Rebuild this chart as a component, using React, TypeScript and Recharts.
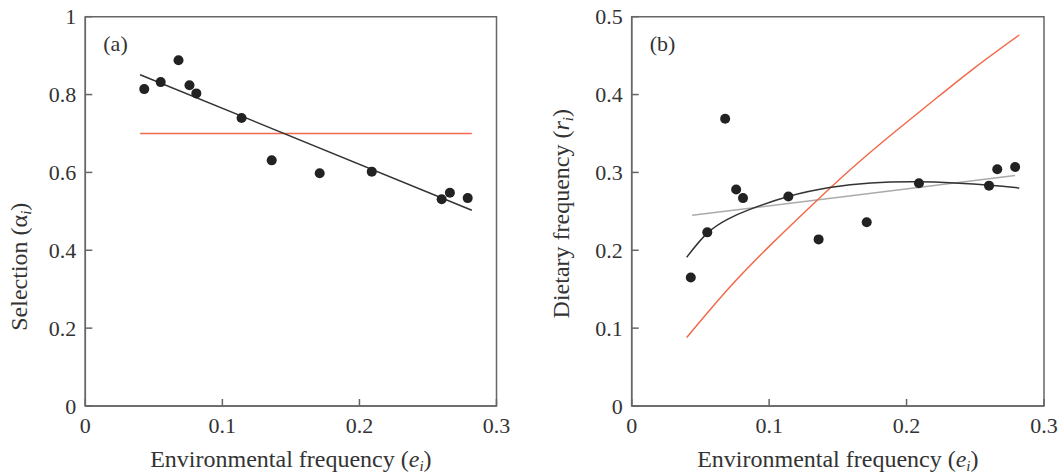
import React from 'react';
import {
  ComposedChart,
  Line,
  Scatter,
  XAxis,
  YAxis,
  ReferenceArea,
} from 'recharts';

// prey items: environmental frequency, selection and dietary frequency
const envFreq = [0.043, 0.055, 0.068, 0.076, 0.081, 0.114, 0.136, 0.171, 0.209, 0.260, 0.266, 0.279];
const selection = [0.814, 0.832, 0.888, 0.824, 0.803, 0.740, 0.631, 0.598, 0.602, 0.531, 0.548, 0.534];
const dietary = [0.165, 0.223, 0.369, 0.278, 0.267, 0.269, 0.214, 0.236, 0.286, 0.283, 0.304, 0.307];

// panel (a) lines
const selFitX = [0.04, 0.282];
const selFitY = [0.851, 0.503];
const selConstX = [0.04, 0.282];
const selConstY = [0.7, 0.7];

// panel (b) lines
const dietLinX = [0.044, 0.279];
const dietLinY = [0.245, 0.296];
const dietCurveX = [0.04, 0.055, 0.07, 0.086, 0.114, 0.144, 0.174, 0.207, 0.235, 0.261, 0.282];
const dietCurveY = [0.191, 0.222, 0.24, 0.2525, 0.269, 0.2805, 0.2865, 0.288, 0.2865, 0.2835, 0.28];
const dietPredX = [0.04, 0.07, 0.1, 0.13, 0.16, 0.19, 0.22, 0.25, 0.282];
const dietPredY = [0.088, 0.15, 0.205, 0.256, 0.305, 0.35, 0.393, 0.435, 0.4765];

const xTicks = [0, 0.1, 0.2, 0.3];
const leftTicks = [0, 0.2, 0.4, 0.6, 0.8, 1];
const rightTicks = [0, 0.1, 0.2, 0.3, 0.4, 0.5];

const FONT = "'Liberation Serif', 'Times New Roman', serif";
const TEXT = '#333';
const AXIS = '#666';
const ORANGE = '#f26a4b';
const TICK_FS = 22;
const TITLE_FS = 24;

const zip = (xs: number[], ys: number[]) => xs.map((x, i) => ({ x, y: ys[i] }));

const BottomTick = (props: any) => {
  const { x, y, payload } = props;
  return (
    <g>
      <line x1={x} x2={x} y1={y} y2={y - 7} stroke={AXIS} strokeWidth={1.5} />
      <text x={x} y={y + 27} textAnchor="middle" fontFamily={FONT} fontSize={TICK_FS} fill={TEXT}>
        {String(payload.value)}
      </text>
    </g>
  );
};

const LeftTick = (props: any) => {
  const { x, y, payload } = props;
  return (
    <g>
      <line x1={x} x2={x + 7} y1={y} y2={y} stroke={AXIS} strokeWidth={1.5} />
      <text x={x - 9} y={y} dy="0.35em" textAnchor="end" fontFamily={FONT} fontSize={TICK_FS} fill={TEXT}>
        {String(payload.value)}
      </text>
    </g>
  );
};

const xTitle = (p: any) => {
  const vb = p.viewBox;
  return (
    <text x={vb.x + vb.width / 2} y={vb.y + 61} textAnchor="middle" fontFamily={FONT} fontSize={TITLE_FS} fill={TEXT}>
      Environmental frequency (<tspan fontStyle="italic">e</tspan>
      <tspan fontStyle="italic" fontSize={15} dy={4}>i</tspan>
      <tspan dy={-4}>)</tspan>
    </text>
  );
};

const yTitle = (label: string, sym: string, symItalic: boolean, dx: number, dy: number) => (p: any) => {
  const vb = p.viewBox;
  const cx = vb.x + dx;
  const cy = vb.y + dy;
  return (
    <text
      x={cx}
      y={cy}
      dy="0.35em"
      textAnchor="middle"
      transform={`rotate(-90, ${cx}, ${cy})`}
      fontFamily={FONT}
      fontSize={TITLE_FS}
      fill={TEXT}
    >
      {label} (<tspan fontStyle={symItalic ? 'italic' : 'normal'}>{sym}</tspan>
      <tspan fontStyle="italic" fontSize={15} dy={4}>i</tspan>
      <tspan dy={-4}>)</tspan>
    </text>
  );
};

const panelTag = (tag: string) => (p: any) => {
  const vb = p.viewBox;
  return (
    <text x={vb.x + 18} y={vb.y + 34} fontFamily={FONT} fontSize={TICK_FS} fill={TEXT}>
      {tag}
    </text>
  );
};

const dot = (p: any) => <circle cx={p.cx} cy={p.cy} r={5} fill="#222" />;

export default function App() {
  return (
    <div style={{ position: 'absolute', left: 0, top: 0, width: 1062, height: 475, background: '#fff' }}>
      <div style={{ position: 'absolute', left: 0, top: 0 }}>
        <ComposedChart width={530} height={475} margin={{ top: 16.7, right: 33.5, bottom: 0, left: 0 }}>
          <XAxis
            dataKey="x"
            type="number"
            domain={[0, 0.3]}
            ticks={xTicks}
            allowDataOverflow
            height={69}
            tickSize={0}
            tickMargin={0}
            tickLine={false}
            tick={BottomTick}
            axisLine={{ stroke: AXIS, strokeWidth: 1.5 }}
            label={xTitle}
          />
          <YAxis
            dataKey="y"
            type="number"
            domain={[0, 1]}
            ticks={leftTicks}
            allowDataOverflow
            width={85.3}
            tickSize={0}
            tickMargin={0}
            tickLine={false}
            tick={LeftTick}
            axisLine={{ stroke: AXIS, strokeWidth: 1.5 }}
            label={yTitle('Selection', 'α', false, 18.5, 250)}
          />
          <ReferenceArea
            x1={0}
            x2={0.3}
            y1={0}
            y2={1}
            fill="none"
            stroke={AXIS}
            strokeWidth={1.5}
            ifOverflow="visible"
            label={panelTag('(a)')}
          />
          <Line data={zip(selConstX, selConstY)} dataKey="y" type="linear" stroke={ORANGE} strokeWidth={1.5} dot={false} isAnimationActive={false} />
          <Line data={zip(selFitX, selFitY)} dataKey="y" type="linear" stroke="#333" strokeWidth={1.5} dot={false} isAnimationActive={false} />
          <Scatter data={zip(envFreq, selection)} dataKey="y" shape={dot} isAnimationActive={false} />
        </ComposedChart>
      </div>
      <div style={{ position: 'absolute', left: 530, top: 0 }}>
        <ComposedChart width={532} height={475} margin={{ top: 16.7, right: 18, bottom: 0, left: 0 }}>
          <XAxis
            dataKey="x"
            type="number"
            domain={[0, 0.3]}
            ticks={xTicks}
            allowDataOverflow
            height={69}
            tickSize={0}
            tickMargin={0}
            tickLine={false}
            tick={BottomTick}
            axisLine={{ stroke: AXIS, strokeWidth: 1.5 }}
            label={xTitle}
          />
          <YAxis
            dataKey="y"
            type="number"
            domain={[0, 0.5]}
            ticks={rightTicks}
            allowDataOverflow
            width={101.7}
            tickSize={0}
            tickMargin={0}
            tickLine={false}
            tick={LeftTick}
            axisLine={{ stroke: AXIS, strokeWidth: 1.5 }}
            label={yTitle('Dietary frequency', 'r', true, 31, 197)}
          />
          <ReferenceArea
            x1={0}
            x2={0.3}
            y1={0}
            y2={0.5}
            fill="none"
            stroke={AXIS}
            strokeWidth={1.5}
            ifOverflow="visible"
            label={panelTag('(b)')}
          />
          <Line data={zip(dietLinX, dietLinY)} dataKey="y" type="linear" stroke="#aaa" strokeWidth={1.5} dot={false} isAnimationActive={false} />
          <Line data={zip(dietPredX, dietPredY)} dataKey="y" type="natural" stroke={ORANGE} strokeWidth={1.5} dot={false} isAnimationActive={false} />
          <Line data={zip(dietCurveX, dietCurveY)} dataKey="y" type="natural" stroke="#333" strokeWidth={1.5} dot={false} isAnimationActive={false} />
          <Scatter data={zip(envFreq, dietary)} dataKey="y" shape={dot} isAnimationActive={false} />
        </ComposedChart>
      </div>
    </div>
  );
}
